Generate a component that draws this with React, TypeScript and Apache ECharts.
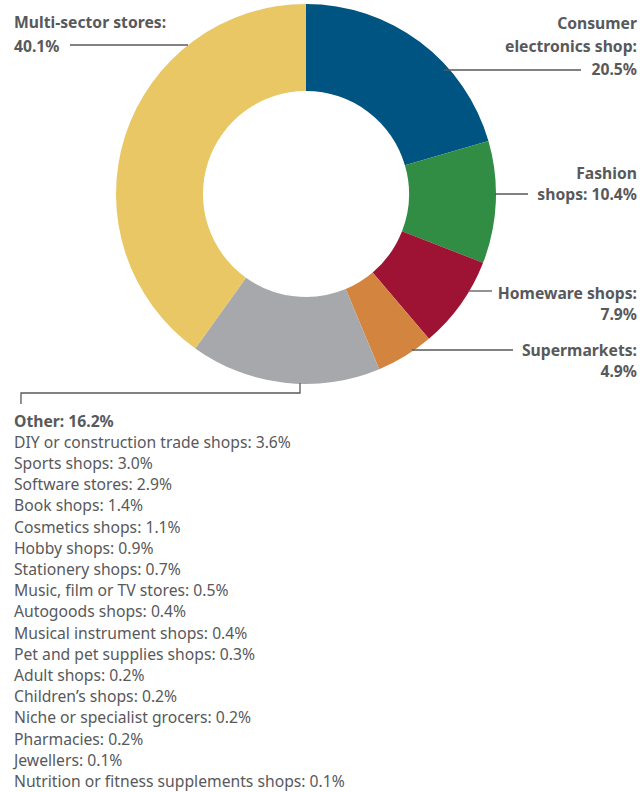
import React, { useEffect, useRef } from "react";
import * as echarts from "echarts";

// ---- Data ----
const sliceNames = [
  "Consumer electronics shop",
  "Fashion shops",
  "Homeware shops",
  "Supermarkets",
  "Other",
  "Multi-sector stores",
];
const sliceValues = [20.5, 10.4, 7.9, 4.9, 16.2, 40.1];
const sliceColors = ["#005482", "#318c44", "#9e1233", "#d3843f", "#a7a8ab", "#e8c764"];

const otherNames = [
  "DIY or construction trade shops",
  "Sports shops",
  "Software stores",
  "Book shops",
  "Cosmetics shops",
  "Hobby shops",
  "Stationery shops",
  "Music, film or TV stores",
  "Autogoods shops",
  "Musical instrument shops",
  "Pet and pet supplies shops",
  "Adult shops",
  "Children\u2019s shops",
  "Niche or specialist grocers",
  "Pharmacies",
  "Jewellers",
  "Nutrition or fitness supplements shops",
];
const otherValues = [3.6, 3.0, 2.9, 1.4, 1.1, 0.9, 0.7, 0.5, 0.4, 0.4, 0.3, 0.2, 0.2, 0.2, 0.2, 0.1, 0.1];

const TEXT = "#58595b";
const FONT = "'Noto Sans', sans-serif";
const FS = 15.7;

const fmt = (v: number) => v.toFixed(1) + "%";

export default function App() {
  const ref = useRef<HTMLDivElement>(null);
  useEffect(() => {
    if (!ref.current) return;
    const chart = echarts.init(ref.current, null, { renderer: "svg" });

    // label text blocks (line breaks are layout)
    const labelText = [
      "Consumer\nelectronics shop:\n" + fmt(sliceValues[0]),
      "Fashion\nshops: " + fmt(sliceValues[1]),
      "Homeware shops:\n" + fmt(sliceValues[2]),
      "Supermarkets:\n" + fmt(sliceValues[3]),
      "",
      "Multi-sector stores:\n" + fmt(sliceValues[5]),
    ];
    // layout: [x, yTop, align, lineHeight]
    const labelPos: [number, number, string, number][] = [
      [637, 11, "right", 23],
      [637, 162, "right", 21],
      [637, 282, "right", 21],
      [637, 339, "right", 21],
      [0, 0, "left", 0],
      [14, 10, "left", 24],
    ];
    // leader lines (layout)
    const leaders: number[][][] = [
      [[444, 70], [581, 70]],
      [[495, 194], [528, 194]],
      [[468, 291], [492, 291]],
      [[412, 350], [513, 350]],
      [[300, 383], [300, 393], [21, 393], [21, 404]],
      [[70, 45], [188, 45]],
    ];

    const graphics: any[] = [];
    sliceNames.forEach((_, i) => {
      if (labelText[i]) {
        const [x, y, align, lh] = labelPos[i];
        graphics.push({
          type: "text",
          x,
          y,
          style: {
            text: labelText[i],
            fill: TEXT,
            font: `bold ${FS}px ${FONT}`,
            align,
            verticalAlign: "top",
            lineHeight: lh,
          },
        });
      }
      graphics.push({
        type: "polyline",
        shape: { points: leaders[i] },
        style: { stroke: TEXT, lineWidth: 1.3, fill: null },
        z: 10,
      });
    });

    // "Other" breakdown list
    const listTop = 412.5;
    const lh = 21.2;
    graphics.push({
      type: "text",
      x: 14,
      y: listTop,
      style: {
        text: sliceNames[4] + ": " + fmt(sliceValues[4]),
        fill: TEXT,
        font: `bold ${FS}px ${FONT}`,
        verticalAlign: "top",
      },
    });
    otherNames.forEach((n, i) => {
      graphics.push({
        type: "text",
        x: 14,
        y: listTop + lh * (i + 1),
        style: {
          text: n + ": " + fmt(otherValues[i]),
          fill: TEXT,
          font: `${FS}px ${FONT}`,
          verticalAlign: "top",
        },
      });
    });

    chart.setOption({
      animation: false,
      series: [
        {
          type: "pie",
          center: [306, 194],
          radius: [103, 190],
          startAngle: 90,
          clockwise: true,
          label: { show: false },
          labelLine: { show: false },
          itemStyle: { borderWidth: 0 },
          emphasis: { disabled: true },
          data: sliceNames.map((name, i) => ({
            name,
            value: sliceValues[i],
            itemStyle: { color: sliceColors[i] },
          })),
        },
      ],
      graphic: graphics,
    });
    return () => chart.dispose();
  }, []);
  return (
    <div
      ref={ref}
      style={{ position: "absolute", left: 0, top: 0, width: 640, height: 792, background: "#fff" }}
    />
  );
}
